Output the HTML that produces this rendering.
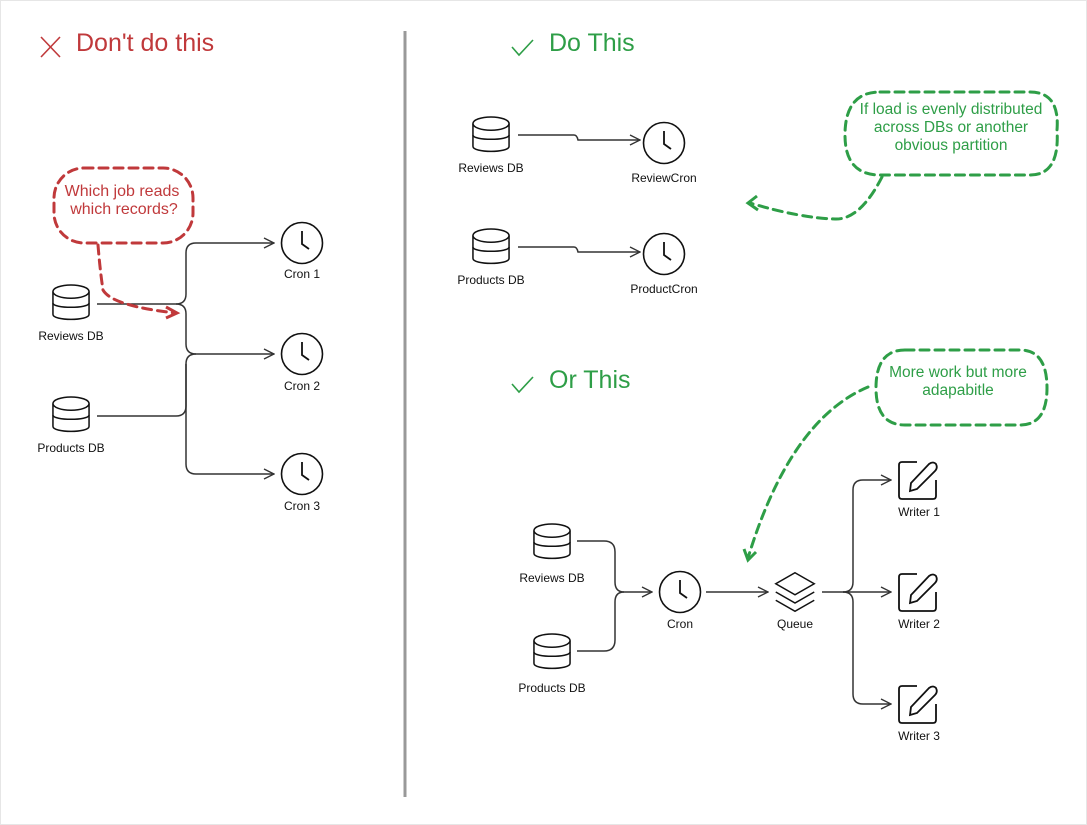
<!DOCTYPE html>
<html><head><meta charset="utf-8"><style>
html,body{margin:0;padding:0;background:#fff;}
svg{display:block;font-family:"Liberation Sans",sans-serif;}
.l{font-size:12px;fill:#111;text-anchor:middle;}
.c{fill:none;stroke:#333;stroke-width:1.5;}
.i{fill:#fff;stroke:#111;stroke-width:1.6;}
.r{fill:none;stroke:#c0393b;stroke-width:3;stroke-dasharray:9 6;stroke-linecap:round;}
.g{fill:none;stroke:#2e9e47;stroke-width:3;stroke-dasharray:9 6;stroke-linecap:round;}
</style></head><body>
<svg width="1087" height="825" viewBox="0 0 1087 825">
<defs>
<symbol id="db" viewBox="0 0 40 40" overflow="visible">
<path class="i" d="M1 8 V32 C1 39 39 39 39 32 V8"/>
<ellipse class="i" cx="20" cy="8" rx="19" ry="7"/>
<path class="i" d="M1 20 C1 26 39 26 39 20" fill="none"/>
</symbol>
<symbol id="ck" viewBox="0 0 44 44" overflow="visible">
<circle class="i" cx="22" cy="22" r="20.5"/>
<path d="M22 10 V23 L29 28" fill="none" stroke="#111" stroke-width="1.8"/>
</symbol>
<symbol id="pen" viewBox="0 0 42 44" overflow="visible">
<path d="M20 4 H5 Q2 4 2 7 V38 Q2 41 5 41 H36 Q39 41 39 38 V22" fill="none" stroke="#111" stroke-width="1.8"/>
<path d="M13 33 L14 25 L32 6 Q36 3 39 6 Q41 10 38 13 L20 31 Z" fill="#fff" stroke="#111" stroke-width="1.8"/>
</symbol>
<symbol id="q" viewBox="0 0 48 44" overflow="visible">
<path d="M24 1 L45 13 L24 25 L3 13 Z" fill="#fff" stroke="#111" stroke-width="1.6"/>
<path d="M3 22 L24 34 L45 22" fill="none" stroke="#111" stroke-width="1.6"/>
<path d="M3 31 L24 43 L45 31" fill="none" stroke="#111" stroke-width="1.6"/>
</symbol>
<marker id="ar" viewBox="0 0 12 12" refX="11" refY="6" markerWidth="12" markerHeight="12" markerUnits="userSpaceOnUse" orient="auto"><path d="M1 1 L11 6 L1 11" fill="none" stroke="#333" stroke-width="1.4"/></marker>
</defs>
<rect x="0.5" y="0.5" width="1086" height="824" fill="none" stroke="#e6e6e6"/>
<line x1="405" y1="31" x2="405" y2="797" stroke="#999" stroke-width="3"/>

<!-- titles -->
<path d="M41 37 L60 57 M60 37 L41 57" stroke="#c0393b" stroke-width="1.6"/>
<text x="76" y="51" font-size="25" fill="#c0393b">Don't do this</text>
<path d="M512 47 L519 55 L533 40" fill="none" stroke="#2e9e47" stroke-width="1.6"/>
<text x="549" y="51" font-size="25" fill="#2e9e47">Do This</text>
<path d="M512 384 L519 392 L533 377" fill="none" stroke="#2e9e47" stroke-width="1.6"/>
<text x="549" y="388" font-size="25" fill="#2e9e47">Or This</text>

<!-- LEFT -->
<use href="#db" x="52" y="284" width="38" height="38"/>
<text class="l" x="71" y="340">Reviews DB</text>
<use href="#db" x="52" y="396" width="38" height="38"/>
<text class="l" x="71" y="452">Products DB</text>
<use href="#ck" x="280" y="221" width="44" height="44"/><text class="l" x="302" y="278">Cron 1</text>
<use href="#ck" x="280" y="332" width="44" height="44"/><text class="l" x="302" y="390">Cron 2</text>
<use href="#ck" x="280" y="452" width="44" height="44"/><text class="l" x="302" y="510">Cron 3</text>
<path d="M97 304 H176 Q186 304 186 294 V253 Q186 243 196 243 H274" class="c" marker-end="url(#ar)" stroke="#111"/>
<path d="M176 304 Q186 304 186 314 V344 Q186 354 196 354 H274" class="c" marker-end="url(#ar)"/>
<path d="M97 416 H176 Q186 416 186 406 V364 Q186 354 196 354" class="c"/>
<path d="M186 364 V464 Q186 474 196 474 H274" class="c" marker-end="url(#ar)"/>
<rect class="r" x="54" y="168" width="139" height="75" rx="30"/>
<text x="122" y="196" font-size="16" fill="#c0393b" text-anchor="middle">Which job reads</text>
<text x="124" y="214" font-size="16" fill="#c0393b" text-anchor="middle">which records?</text>
<path class="r" d="M98 245 Q100 270 103 290 Q112 306 176 313"/>
<path d="M166 307 L177 313 L166 318" fill="none" stroke="#c0393b" stroke-width="3"/>

<!-- DO THIS -->
<use href="#db" x="472" y="116" width="38" height="38"/>
<text class="l" x="491" y="172">Reviews DB</text>
<use href="#db" x="472" y="228" width="38" height="38"/>
<text class="l" x="491" y="284">Products DB</text>
<use href="#ck" x="642" y="121" width="44" height="44"/><text class="l" x="664" y="182">ReviewCron</text>
<use href="#ck" x="642" y="232" width="44" height="44"/><text class="l" x="664" y="293">ProductCron</text>
<path class="c" d="M518 135 H574 Q577 135 578 140 H640" marker-end="url(#ar)"/>
<path class="c" d="M518 247 H574 Q577 247 578 252 H640" marker-end="url(#ar)"/>
<path class="g" d="M880 92 H1030 Q1060 92 1057 130 Q1060 175 1030 175 H880 Q845 175 845 135 Q845 92 880 92 Z"/>
<text x="951" y="114" font-size="15.5" fill="#2e9e47" text-anchor="middle">If load is evenly distributed</text>
<text x="951" y="132" font-size="15.5" fill="#2e9e47" text-anchor="middle">across DBs or another</text>
<text x="951" y="150" font-size="15.5" fill="#2e9e47" text-anchor="middle">obvious partition</text>
<path class="g" d="M882 177 Q860 220 835 219 Q800 218 750 203"/>
<path d="M757 196 L748 203 L758 210" fill="none" stroke="#2e9e47" stroke-width="3"/>

<!-- OR THIS -->
<path class="g" d="M905 350 H1020 Q1047 350 1047 388 Q1047 425 1020 425 H905 Q876 425 876 388 Q876 350 905 350 Z"/>
<text x="958" y="377" font-size="15.5" fill="#2e9e47" text-anchor="middle">More work but more</text>
<text x="958" y="395" font-size="15.5" fill="#2e9e47" text-anchor="middle">adapabitle</text>
<path class="g" d="M868 387 Q790 420 748 558"/>
<path d="M744 549 L748 560 L756 552" fill="none" stroke="#2e9e47" stroke-width="3"/>

<use href="#db" x="533" y="522" width="38" height="40"/>
<text class="l" x="552" y="582">Reviews DB</text>
<use href="#db" x="533" y="632" width="38" height="40"/>
<text class="l" x="552" y="692">Products DB</text>
<use href="#ck" x="658" y="570" width="44" height="44"/><text class="l" x="680" y="628">Cron</text>
<use href="#q" x="773" y="571" width="44" height="42"/><text class="l" x="795" y="628">Queue</text>
<path class="c" d="M577 541 H604 Q615 541 615 552 V582 Q615 592 624 592 H652" marker-end="url(#ar)"/>
<path class="c" d="M577 651 H604 Q615 651 615 640 V602 Q615 592 624 592"/>
<path class="c" d="M706 592 H768" marker-end="url(#ar)"/>
<path class="c" d="M822 592 H843 Q853 592 853 582 V490 Q853 480 863 480 H891" marker-end="url(#ar)" stroke="#111"/>
<path class="c" d="M843 592 H891" marker-end="url(#ar)"/>
<path class="c" d="M843 592 Q853 592 853 602 V694 Q853 704 863 704 H891" marker-end="url(#ar)"/>
<use href="#pen" x="897" y="458" width="42" height="44"/><text class="l" x="919" y="516">Writer 1</text>
<use href="#pen" x="897" y="570" width="42" height="44"/><text class="l" x="919" y="628">Writer 2</text>
<use href="#pen" x="897" y="682" width="42" height="44"/><text class="l" x="919" y="740">Writer 3</text>
</svg>
</body></html>
